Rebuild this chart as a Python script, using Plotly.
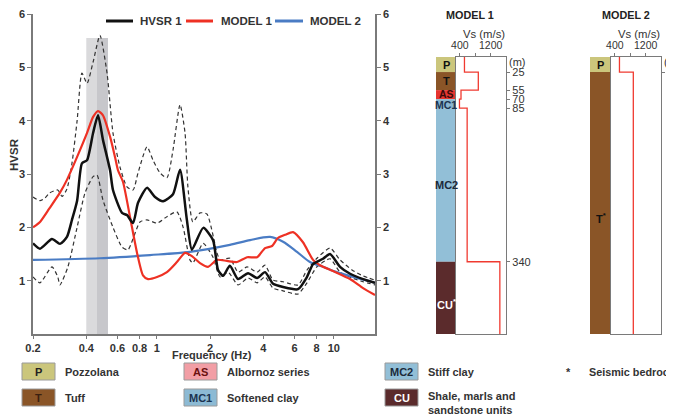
import plotly.graph_objects as go

# ---------------- HVSR data (frequency Hz, amplitude) ----------------
hv_f = [0.20, 0.219, 0.256, 0.284, 0.311, 0.332, 0.355, 0.378, 0.404, 0.437, 0.466, 0.497,
        0.545, 0.566, 0.637, 0.679, 0.735, 0.784, 0.881, 0.978, 1.086, 1.236, 1.354, 1.48,
        1.58, 1.83, 2.08, 2.22, 2.37, 2.59, 2.88, 3.28, 3.69, 4.09, 4.54, 5.17, 6.28, 7.06,
        7.64, 8.70, 9.53, 10.85, 12.36, 14.64, 17.1]
hv_v = [1.70, 1.60, 1.78, 1.69, 1.82, 2.14, 2.50, 3.20, 3.26, 3.77, 4.10, 3.64,
        3.07, 2.70, 2.27, 2.23, 2.08, 2.46, 2.74, 2.57, 2.49, 2.62, 3.08, 2.14,
        1.58, 1.99, 1.76, 1.20, 1.09, 1.28, 1.03, 1.14, 1.05, 1.16, 0.94, 0.88, 0.84, 1.07,
        1.31, 1.41, 1.50, 1.26, 1.13, 1.03, 0.96]

up_f = [0.20, 0.219, 0.234, 0.247, 0.276, 0.292, 0.311, 0.332, 0.355, 0.378, 0.404, 0.437,
        0.478, 0.524, 0.566, 0.620, 0.679, 0.735, 0.784, 0.881, 0.953, 1.044, 1.142, 1.236,
        1.354, 1.445, 1.50, 1.60, 1.756, 1.92, 2.19, 2.28, 2.59, 2.88, 3.24, 3.69, 4.09,
        4.54, 5.17, 6.28, 7.06, 8.04, 9.53, 10.85, 12.68, 14.64, 17.1]
up_v = [2.57, 2.50, 2.55, 2.64, 2.70, 2.58, 2.72, 3.20, 4.00, 4.89, 4.70, 5.10,
        5.60, 4.89, 3.77, 3.13, 2.76, 2.70, 3.02, 3.51, 3.26, 3.02, 2.93, 3.45,
        4.30, 3.77, 2.76, 2.10, 2.27, 2.25, 1.52, 1.39, 1.42, 1.16, 1.26, 1.16, 1.29,
        1.01, 0.98, 0.92, 1.20, 1.42, 1.61, 1.39, 1.20, 1.09, 1.01]

lo_f = [0.20, 0.219, 0.256, 0.276, 0.284, 0.315, 0.355, 0.393, 0.437, 0.46, 0.497, 0.566,
        0.637, 0.688, 0.804, 0.881, 1.004, 1.142, 1.30, 1.41, 1.54, 1.60, 1.83, 2.08, 2.28,
        2.53, 2.88, 3.28, 3.69, 4.09, 4.54, 5.17, 6.28, 7.06, 8.04, 9.53, 10.85, 12.68,
        14.64, 17.1]
lo_v = [1.07, 0.96, 1.26, 1.07, 0.92, 1.26, 2.00, 2.64, 2.95, 2.98, 2.51, 2.00,
        1.63, 1.58, 2.10, 2.14, 2.08, 2.20, 2.29, 2.00, 1.39, 1.33, 1.70, 1.44, 1.07,
        1.16, 0.92, 1.05, 0.96, 1.07, 0.86, 0.81, 0.75, 0.96, 1.26, 1.41, 1.16, 1.05,
        0.98, 0.92]

m1_f = [0.20, 0.219, 0.247, 0.284, 0.311, 0.355, 0.404, 0.437, 0.466, 0.497, 0.545, 0.581,
        0.604, 0.645, 0.706, 0.774, 0.836, 0.893, 1.004, 1.142, 1.30, 1.445, 1.58, 1.756,
        1.95, 2.19, 2.49, 2.84, 3.24, 3.69, 4.09, 4.48, 4.84, 5.31, 5.89, 6.70, 7.64, 8.36,
        9.91, 12.36, 14.64, 17.1]
m1_v = [2.00, 2.10, 2.35, 2.65, 2.89, 3.32, 3.77, 4.07, 4.18, 4.10, 3.70, 3.32,
        3.07, 2.85, 2.20, 1.52, 1.10, 1.03, 1.07, 1.16, 1.35, 1.52, 1.46, 1.33,
        1.26, 1.39, 1.37, 1.35, 1.44, 1.44, 1.61, 1.65, 1.80, 1.86, 1.91, 1.72, 1.39, 1.29,
        1.18, 1.03, 0.86, 0.73]

m2_f = [0.20, 0.478, 0.916, 1.54, 2.59, 3.37, 4.37, 5.17, 6.20, 7.34, 8.70, 10.4, 12.9, 17.1]
m2_v = [1.39, 1.42, 1.48, 1.54, 1.67, 1.76, 1.82, 1.73, 1.54, 1.35, 1.26, 1.16, 1.07, 0.96]

band_light = [0.40, 0.53]
band_dark = [0.46, 0.53]
band_top = 5.55

freq_ticks = [0.2, 0.4, 0.6, 0.8, 1, 2, 4, 6, 8, 10]
freq_labels = ["0.2", "0.4", "0.6", "0.8", "1", "2", "4", "6", "8", "10"]
hvsr_ticks = [1, 2, 3, 4, 5, 6]
series_names = ["HVSR 1", "MODEL 1", "MODEL 2"]

# ---------------- Velocity models ----------------
m1_layers = ["P", "T", "AS", "MC1", "MC2", "CU"]
m1_tops = [0, 25, 55, 70, 85, 340]
m1_vs = [520, 880, 430, 390, 590, 1440]
m2_layers = ["P", "T"]
m2_tops = [0, 25]
m2_vs = [520, 880]
bottom_depth = 460
m1_depth_ticks = [25, 55, 70, 85, 340]
m2_depth_ticks = [25]
vs_ticks = [400, 800, 1200]
vs_labels = ["400", "", "1200"]

layer_colors = {"P": "#cbc67c", "T": "#8a5527", "AS": "#e5342f", "MC1": "#8bb6cf",
                "MC2": "#92bfd7", "CU": "#5b2b2c"}
legend_colors = {"P": "#cbc67c", "T": "#8a5527", "AS": "#f29ea5", "MC1": "#8cbad4",
                 "MC2": "#92bfd7", "CU": "#5b2b2c"}
layer_text_colors = {"P": "#111111", "T": "#111111", "AS": "#3a0a0a", "MC1": "#1b3350",
                     "MC2": "#1b2a3a", "CU": "#ffffff"}
legend_names = {"P": "Pozzolana", "T": "Tuff", "AS": "Albornoz series",
                "MC1": "Softened clay", "MC2": "Stiff clay",
                "CU": "Shale, marls and<br>sandstone units"}

W, H = 674, 416
OX, OY = 8, 8  # page body margin of the viewer
FONT = "Liberation Sans, Arial, sans-serif"
AX = "#7a7a7a"
C_HV, C_M1, C_M2 = "#111111", "#ee3124", "#4a7cc4"


def px(x):
    return (x - OX) / W


def py(y):
    return 1 - (y - OY) / H


fig = go.Figure()

for f, v in [(up_f, up_v), (lo_f, lo_v)]:
    fig.add_trace(go.Scatter(x=f, y=v, mode="lines", showlegend=False,
                             line=dict(color="#333333", width=1.2, dash="4px,3px",
                                       shape="spline", smoothing=0.6),
                             xaxis="x", yaxis="y", hoverinfo="skip"))
fig.add_trace(go.Scatter(x=m2_f, y=m2_v, mode="lines", name=series_names[2], showlegend=False,
                         line=dict(color=C_M2, width=2.2, shape="spline", smoothing=0.8),
                         xaxis="x", yaxis="y"))
fig.add_trace(go.Scatter(x=m1_f, y=m1_v, mode="lines", name=series_names[1], showlegend=False,
                         line=dict(color=C_M1, width=2.2, shape="spline", smoothing=0.6),
                         xaxis="x", yaxis="y"))
fig.add_trace(go.Scatter(x=hv_f, y=hv_v, mode="lines", name=series_names[0], showlegend=False,
                         line=dict(color=C_HV, width=2.5, shape="spline", smoothing=0.6),
                         xaxis="x", yaxis="y"))
fig.add_trace(go.Scatter(x=[1], y=[1], mode="markers", marker=dict(opacity=0), showlegend=False,
                         xaxis="x", yaxis="y2", hoverinfo="skip"))

shapes = []
for (a, b), col in [(band_light, "#dadadc"), (band_dark, "#c7c7cb")]:
    shapes.append(dict(type="rect", xref="x", yref="y", x0=a, x1=b, y0=0, y1=band_top,
                       fillcolor=col, line=dict(width=0), layer="below"))

annotations = []


def ann(x, y, text, size=11, bold=False, color="#333", xanchor="center", **kw):
    d = dict(x=px(x), y=py(y), xref="paper", yref="paper", text=text, showarrow=False,
             xanchor=xanchor, yanchor="middle",
             font=dict(family=FONT, size=size, weight="bold" if bold else "normal", color=color))
    d.update(kw)
    annotations.append(d)


# top legend (custom)
leg_top = [(106, 133, 138, C_HV), (186, 213, 219, C_M1), (275, 303, 308, C_M2)]
for (x0, x1, tx, col), name in zip(leg_top, series_names):
    shapes.append(dict(type="line", xref="paper", yref="paper", x0=px(x0), x1=px(x1),
                       y0=py(21), y1=py(21), line=dict(color=col, width=3)))
    ann(tx, 21, name, size=11.5, bold=True, xanchor="left")


def add_model(layers, tops, vs, xc, xb, yc, yb):
    bottoms = tops[1:] + [bottom_depth]
    thick = [b - t for t, b in zip(tops, bottoms)]
    fig.add_trace(go.Bar(x=[0.5] * len(layers), y=thick, base=tops, width=1,
                         marker=dict(color=[layer_colors[l] for l in layers], line=dict(width=0)),
                         showlegend=False, xaxis=xc, yaxis=yc, hoverinfo="skip"))
    sx, sy = [], []
    for t, b, v in zip(tops, bottoms, vs):
        sx += [v, v]
        sy += [t, b]
    fig.add_trace(go.Scatter(x=sx, y=sy, mode="lines", showlegend=False,
                             line=dict(color="#f03a30", width=1.3),
                             xaxis=xb, yaxis=yb, hoverinfo="skip"))


add_model(m1_layers, m1_tops, m1_vs, "x3", "x4", "y3", "y4")
add_model(m2_layers, m2_tops, m2_vs, "x5", "x6", "y5", "y6")

lab_depth_m1 = {"P": 12.5, "T": 40, "AS": 62, "MC1": 79, "MC2": 212, "CU": 410}
for l in m1_layers:
    txt = "CU<sup>*</sup>" if l == "CU" else l
    annotations.append(dict(x=0.5, y=lab_depth_m1[l], xref="x3", yref="y3", text=txt,
                            showarrow=False, xanchor="center", yanchor="middle",
                            font=dict(family=FONT, size=11 if l not in ("AS", "MC1") else 10.5,
                                      weight="bold", color=layer_text_colors[l])))
annotations.append(dict(x=0.5, y=12.5, xref="x5", yref="y5", text="P", showarrow=False,
                        xanchor="center", yanchor="middle",
                        font=dict(family=FONT, size=11, weight="bold", color="#111")))
annotations.append(dict(x=0.5, y=268, xref="x5", yref="y5", text="T<sup>*</sup>", showarrow=False,
                        xanchor="center", yanchor="middle",
                        font=dict(family=FONT, size=11, weight="bold", color="#111")))

for x, t in [(470, "MODEL 1"), (626, "MODEL 2")]:
    ann(x, 15, t, size=10.8, bold=True, color="#222")
for x in [484, 639]:
    ann(x, 34, "Vs (m/s)", size=11.3)
for x in [507, 662]:
    ann(x, 62, "(m)", size=11, xanchor="left")

ann(14, 155, "HVSR", size=11.5, bold=True, textangle=-90)
ann(212, 355, "Frequency (Hz)", size=11, bold=True)

leg_items = [("P", 22, 363), ("T", 22, 389), ("AS", 184, 363), ("MC1", 184, 389),
             ("MC2", 385, 363), ("CU", 385, 389)]
box_text_col = {"P": "#222", "T": "#3a2010", "AS": "#6a1010", "MC1": "#1b3350",
                "MC2": "#1b2a3a", "CU": "#ffffff"}
for key, x0, y0 in leg_items:
    shapes.append(dict(type="rect", xref="paper", yref="paper", x0=px(x0), x1=px(x0 + 33),
                       y0=py(y0 + 17), y1=py(y0), fillcolor=legend_colors[key],
                       line=dict(color="#9a9a9a", width=1)))
    ann(x0 + 16.5, y0 + 8.5, key, size=11, bold=True, color=box_text_col[key])
    ty = y0 + 8.5 if key != "CU" else y0 + 14
    ann(x0 + 41, ty, legend_names[key], size=11, bold=True, xanchor="left", align="left")
ann(568, 372, "*", size=11, bold=True)
ann(587, 371.5, "Seismic bedrock", size=10.8, bold=True, xanchor="left")

tickfont_b = dict(family=FONT, size=11, weight="bold", color="#333")
tickfont_n = dict(family=FONT, size=11, color="#333")
tickfont_vs = dict(family=FONT, size=10.5, color="#333")
ydom = [py(334), py(14)]
mdom = [py(334), py(57)]

common = dict(showgrid=False, zeroline=False, automargin=False)
tlo = dict(ticklabeloverflow="allow")

fig.update_layout(
    width=W, height=H, autosize=False,
    margin=dict(l=0, r=0, t=0, b=0, pad=0),
    paper_bgcolor="white", plot_bgcolor="rgba(0,0,0,0)",
    barmode="overlay",
    showlegend=False,
    xaxis=dict(type="log", domain=[px(33), px(375)], range=[-0.69897, 1.233],
               tickvals=freq_ticks, ticktext=freq_labels, ticks="outside", ticklen=3,
               tickcolor=AX, showline=True, linecolor=AX, linewidth=1.5,
               tickfont=tickfont_b, anchor="y", **common, **tlo),
    yaxis=dict(domain=ydom, range=[0, 6], tickvals=hvsr_ticks, ticks="outside", ticklen=4,
               tickcolor=AX, showline=True, linecolor=AX, linewidth=1.5,
               tickfont=tickfont_b, anchor="x", **common, **tlo),
    yaxis2=dict(domain=ydom, range=[0, 6], tickvals=hvsr_ticks, ticks="outside", ticklen=4,
                tickcolor=AX, showline=True, linecolor=AX, linewidth=1.5,
                tickfont=tickfont_b, overlaying="y", side="right", anchor="x", **common, **tlo),
    xaxis3=dict(domain=[px(436), px(456)], range=[0, 1], visible=False, anchor="y3", **common),
    yaxis3=dict(domain=mdom, range=[bottom_depth, 0], visible=False, anchor="x3", **common),
    xaxis4=dict(domain=[px(456), px(506)], range=[300, 1600], side="top", tickvals=vs_ticks,
                ticktext=vs_labels, ticks="outside", ticklen=3, tickcolor=AX, showline=True,
                linecolor=AX, linewidth=1.3, mirror=True, tickfont=tickfont_vs, anchor="y4",
                **common, **tlo),
    yaxis4=dict(domain=mdom, range=[bottom_depth, 0], side="right", tickvals=m1_depth_ticks,
                ticks="outside", ticklen=3, tickcolor=AX, showline=True, linecolor=AX,
                linewidth=1.3, mirror=True, tickfont=tickfont_n, anchor="x4", **common, **tlo),
    xaxis5=dict(domain=[px(590), px(611)], range=[0, 1], visible=False, anchor="y5", **common),
    yaxis5=dict(domain=mdom, range=[bottom_depth, 0], visible=False, anchor="x5", **common),
    xaxis6=dict(domain=[px(611), px(661)], range=[300, 1600], side="top", tickvals=vs_ticks,
                ticktext=vs_labels, ticks="outside", ticklen=3, tickcolor=AX, showline=True,
                linecolor=AX, linewidth=1.3, mirror=True, tickfont=tickfont_vs, anchor="y6",
                **common, **tlo),
    yaxis6=dict(domain=mdom, range=[bottom_depth, 0], side="right", tickvals=m2_depth_ticks,
                ticks="outside", ticklen=3, tickcolor=AX, showline=True, linecolor=AX,
                linewidth=1.3, mirror=True, tickfont=tickfont_n, anchor="x6", **common, **tlo),
    shapes=shapes,
    annotations=annotations,
)

fig.write_html("out.html")
